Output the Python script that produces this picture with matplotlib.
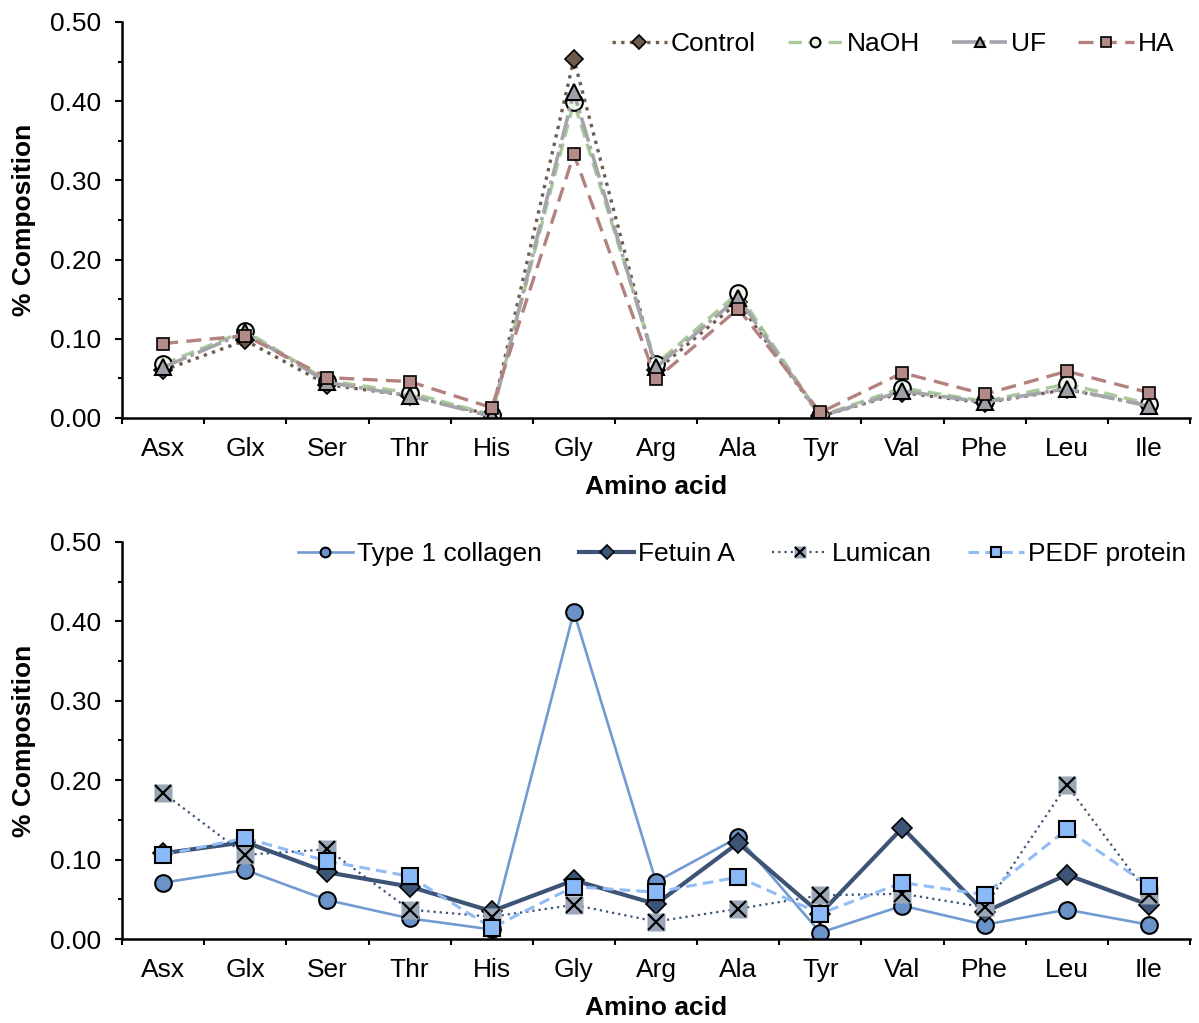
import numpy as np
import matplotlib
matplotlib.use('Agg')
import matplotlib.pyplot as plt
from matplotlib.lines import Line2D
from matplotlib.ticker import MultipleLocator, FormatStrFormatter
from matplotlib.legend_handler import HandlerTuple

plt.rcParams['font.family'] = ['Liberation Sans', 'DejaVu Sans']
plt.rcParams['font.size'] = 19

amino = ['Asx', 'Glx', 'Ser', 'Thr', 'His', 'Gly', 'Arg', 'Ala', 'Tyr', 'Val', 'Phe', 'Leu', 'Ile']

# treated samples (top panel)
control = [0.060, 0.098, 0.042, 0.028, 0.004, 0.453, 0.060, 0.146, 0.002, 0.032, 0.019, 0.036, 0.016]
naoh    = [0.068, 0.110, 0.047, 0.032, 0.004, 0.399, 0.068, 0.158, 0.003, 0.038, 0.021, 0.043, 0.018]
uf      = [0.064, 0.108, 0.045, 0.028, 0.002, 0.411, 0.064, 0.152, 0.002, 0.034, 0.020, 0.037, 0.015]
ha      = [0.094, 0.104, 0.051, 0.046, 0.013, 0.333, 0.049, 0.138, 0.007, 0.057, 0.030, 0.059, 0.032]

# reference proteins (bottom panel)
collagen = [0.071, 0.087, 0.049, 0.026, 0.012, 0.412, 0.072, 0.128, 0.008, 0.042, 0.018, 0.037, 0.018]
fetuin   = [0.108, 0.122, 0.084, 0.066, 0.035, 0.074, 0.044, 0.121, 0.032, 0.140, 0.034, 0.081, 0.043]
lumican  = [0.184, 0.106, 0.113, 0.037, 0.028, 0.043, 0.022, 0.038, 0.055, 0.057, 0.040, 0.194, 0.055]
pedf     = [0.106, 0.127, 0.098, 0.079, 0.014, 0.066, 0.059, 0.078, 0.032, 0.071, 0.056, 0.138, 0.067]

x = np.arange(len(amino))

fig = plt.figure(figsize=(11.99, 10.23), dpi=100)
ax0 = fig.add_axes([0.1018, 0.5914, 0.8907, 0.3871])
ax1 = fig.add_axes([0.1018, 0.0821, 0.8907, 0.3881])


def style_axes(ax):
  ax.set_xlim(-0.5, len(amino) - 0.5)
  ax.set_ylim(0, 0.5)
  for s in ['top', 'right']:
    ax.spines[s].set_visible(False)
  for s in ['left', 'bottom']:
    ax.spines[s].set_linewidth(1.8)
  ax.yaxis.set_major_locator(MultipleLocator(0.1))
  ax.yaxis.set_minor_locator(MultipleLocator(0.05))
  ax.yaxis.set_major_formatter(FormatStrFormatter('%.2f'))
  ax.tick_params(axis='y', which='major', direction='out', length=5, width=1.5, pad=10)
  ax.tick_params(axis='y', which='minor', direction='out', length=3, width=1.5)
  ax.set_xticks(x)
  ax.set_xticklabels(amino)
  ax.set_xticks(np.arange(-0.5, len(amino)), minor=True)
  ax.tick_params(axis='x', which='major', length=0, pad=14)
  ax.tick_params(axis='x', which='minor', direction='out', length=4.5, width=1.5)
  ax.set_xlabel('Amino acid', fontweight='bold', labelpad=10)
  ax.set_ylabel('% Composition', fontweight='bold', labelpad=10)


style_axes(ax0)
style_axes(ax1)

# top panel
ctrl_kw = dict(color='#705c4d', ls=(0, (1, 1.6)), lw=2.4, marker='D', mfc='#6e5a4b', mec='black', mew=1.2)
naoh_kw = dict(color='#a8c999', ls=(0, (4, 2)), lw=2.4, marker='o', mfc='#eef5eb', mec='black', mew=1.5)
uf_kw   = dict(color='#a4a4ab', ls=(0, (7, 1.2, 1, 1.2)), lw=2.6, marker='^', mfc='#a0a0a8', mec='black', mew=1.5)
ha_kw   = dict(color='#b3827e', ls=(0, (4.5, 2.5)), lw=2.4, marker='s', mfc='#b38a87', mec='black', mew=1.2)

ax0.plot(x, control, ms=9, **ctrl_kw)
ax0.plot(x, naoh, ms=12, **naoh_kw)
ax0.plot(x, uf, ms=12, **uf_kw)
ax0.plot(x, ha, ms=9, **ha_kw)

h_top = [Line2D([], [], ms=7, **ctrl_kw), Line2D([], [], ms=7, **naoh_kw),
         Line2D([], [], ms=7, **uf_kw), Line2D([], [], ms=7, **ha_kw)]
ax0.legend(h_top, ['Control', 'NaOH', 'UF', 'HA'],
           loc='upper right', bbox_to_anchor=(0.995, 1.002), ncol=4, frameon=False,
           handlelength=2.1, handletextpad=0.15, columnspacing=1.2, borderaxespad=0)

# bottom panel
col_kw = dict(color='#729bd2', ls='-', lw=1.9, marker='o', mfc='#6a93c9', mec='black', mew=1.5)
fet_kw = dict(color='#3d5476', ls='-', lw=3.0, marker='D', mfc='#3d5476', mec='black', mew=1.2)
lum_kw = dict(color='#3d5476', ls=(0, (1, 1.8)), lw=1.6, marker='s', mfc='#9ba6b6', mec='none')
lumx_kw = dict(ls='none', marker='x', mec='black', mew=1.6)
ped_kw = dict(color='#92bcf5', ls=(0, (3.5, 2)), lw=2.2, marker='s', mfc='#8ab9f7', mec='black', mew=1.5)

ax1.plot(x, collagen, ms=12, **col_kw)
ax1.plot(x, fetuin, ms=10, **fet_kw)
ax1.plot(x, lumican, ms=13, **lum_kw)
ax1.plot(x, lumican, ms=12, **lumx_kw)
ax1.plot(x, pedf, ms=12, **ped_kw)

h_bot = [Line2D([], [], ms=7, **col_kw), Line2D([], [], ms=7, **fet_kw),
         (Line2D([], [], ms=8, **lum_kw), Line2D([], [], ms=7, **lumx_kw)),
         Line2D([], [], ms=7, **ped_kw)]
ax1.legend(h_bot, ['Type 1 collagen', 'Fetuin A', 'Lumican', 'PEDF protein'],
           handler_map={tuple: HandlerTuple(ndivide=1)},
           loc='upper right', bbox_to_anchor=(1.006, 1.027), ncol=4, frameon=False,
           handlelength=2.1, handletextpad=0.15, columnspacing=1.4, borderaxespad=0)

fig.savefig('out.png', dpi=100)
